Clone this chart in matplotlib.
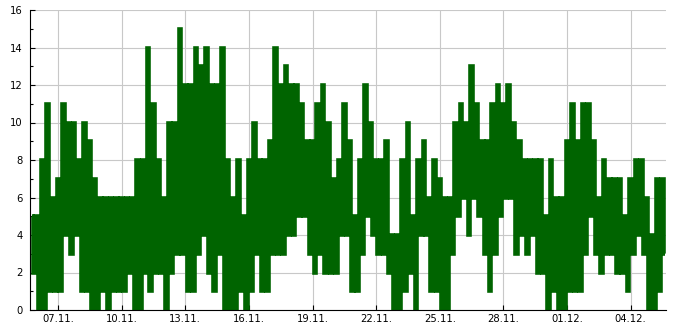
import pandas as pd
import matplotlib
matplotlib.use('Agg')
from matplotlib import pyplot as plt
import matplotlib.dates as mdates
from matplotlib.ticker import MultipleLocator

# Valores: maximo y minimo de cada bloque de 6 horas
maximos = [5, 5, 8, 11, 6, 7, 11, 10, 10, 8, 10,
           9, 7, 6, 6, 6, 6, 6, 6, 6, 8, 8,
           14, 11, 8, 6, 10, 10, 15, 12, 12, 14, 13,
           14, 12, 12, 14, 8, 6, 8, 5, 8, 10, 8,
           8, 9, 14, 12, 13, 12, 12, 11, 9, 9, 11,
           12, 10, 7, 8, 11, 9, 5, 8, 12, 10, 8,
           8, 9, 4, 4, 8, 10, 5, 8, 9, 6, 8,
           7, 6, 6, 10, 11, 10, 13, 11, 9, 9, 11,
           12, 11, 12, 10, 9, 8, 8, 8, 8, 5, 8,
           6, 6, 9, 11, 9, 11, 11, 9, 6, 8, 7,
           7, 7, 5, 7, 8, 8, 6, 4, 7, 7]
minimos = [2, 0, 0, 1, 1, 1, 4, 3, 4, 1, 1,
           0, 0, 1, 0, 1, 1, 1, 2, 0, 0, 2,
           1, 2, 2, 0, 2, 3, 3, 1, 1, 3, 4,
           2, 1, 3, 0, 0, 0, 1, 0, 1, 3, 1,
           1, 3, 3, 3, 4, 4, 5, 5, 3, 2, 3,
           2, 2, 2, 4, 4, 1, 1, 3, 5, 4, 3,
           3, 2, 0, 0, 1, 2, 0, 4, 4, 1, 1,
           0, 0, 3, 5, 6, 4, 6, 5, 3, 1, 3,
           5, 6, 6, 3, 4, 3, 4, 2, 2, 0, 1,
           0, 0, 1, 1, 1, 3, 5, 3, 2, 3, 3,
           2, 2, 1, 3, 4, 3, 0, 0, 1, 3]
inicio = '2023-11-05 18:00'
limitesX = ['2023-11-05 16:18', '2023-12-05 16:00']

# Intercalamos maximo y minimo de cada bloque
valores = []
for alto, bajo in zip(maximos, minimos):
  valores.append(alto)
  valores.append(bajo)
tiempos = pd.date_range(inicio, periods=len(valores), freq='3h')

plt.rcParams['font.family'] = ['DejaVu Sans']
plt.rcParams['font.size'] = 7.2

fig = plt.figure(figsize=(6.85, 3.3), dpi=100)
ax = fig.add_axes([30/685, 20/330, 636/685, 300/330])

ax.plot(tiempos, valores, color='#006400', linewidth=2.6, drawstyle='steps-mid',
        solid_joinstyle='miter', solid_capstyle='butt')

ax.set_xlim(pd.Timestamp(limitesX[0]), pd.Timestamp(limitesX[1]))
ax.set_ylim(0, 16)
ax.set_yticks(range(0, 17, 2))
ax.yaxis.set_minor_locator(MultipleLocator(1))
ax.xaxis.set_major_locator(mdates.DayLocator(bymonthday=range(1, 32, 3)))
ax.xaxis.set_major_formatter(mdates.DateFormatter('%d.%m.'))

ax.tick_params(axis='both', which='major', direction='in', length=3.6, width=0.8, colors='black')
ax.tick_params(axis='y', which='minor', direction='in', length=2.5, width=0.8)
ax.tick_params(axis='y', which='major', pad=5.5)
ax.tick_params(axis='x', which='major', pad=3)

ax.grid(True, which='major', color='#c8c8c8', linewidth=0.8)
ax.set_axisbelow(True)
ax.spines['top'].set_visible(False)
ax.spines['right'].set_visible(False)
ax.spines['left'].set_linewidth(0.8)
ax.spines['bottom'].set_linewidth(0.8)

fig.savefig('out.png', dpi=100)
